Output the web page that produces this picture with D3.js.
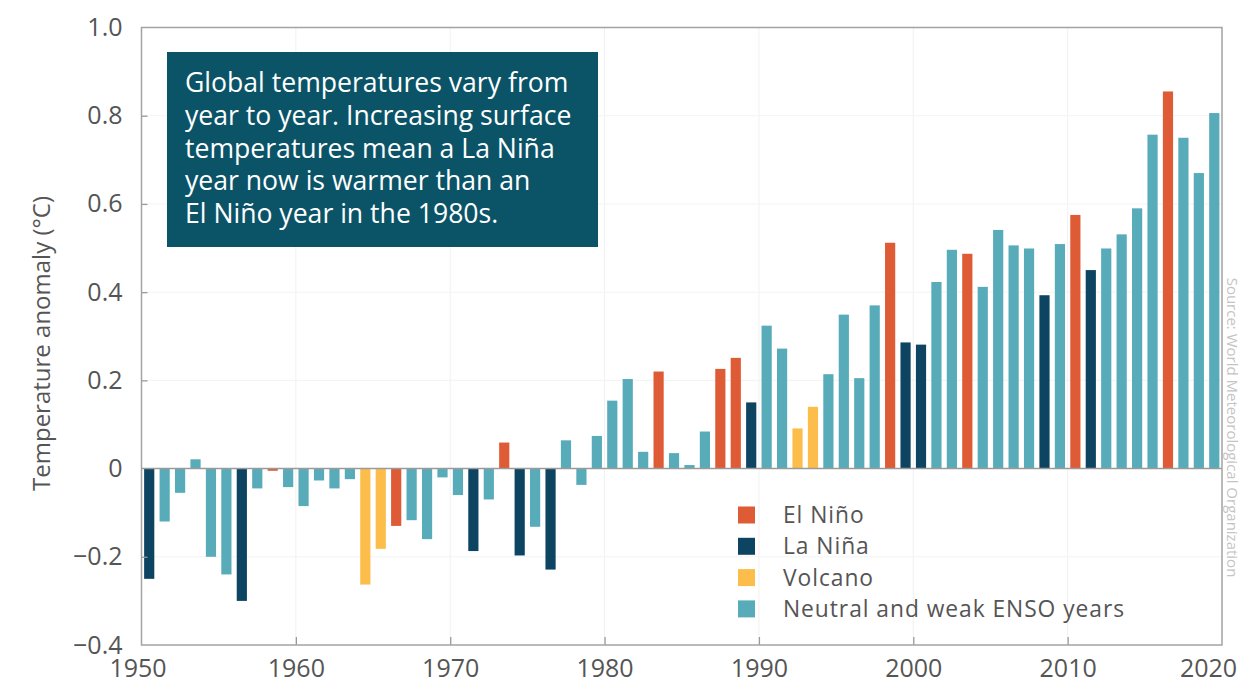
<!DOCTYPE html>
<html>
<head>
<meta charset="utf-8">
<script src="https://cdn.jsdelivr.net/npm/d3@7"></script>
<style>
  html, body { margin: 0; padding: 0; background: #ffffff; }
  svg { display: block; }
  text { font-family: "Open Sans", "Noto Sans", sans-serif; }
</style>
</head>
<body>
<svg id="chart" width="1242" height="688"></svg>
<script>
// ---- data ----
const years = d3.range(1950, 2020);
const anomalies = [
  -0.25, -0.12, -0.055, 0.021, -0.20, -0.24, -0.30, -0.045, -0.005, -0.042,
  -0.085, -0.027, -0.045, -0.024, -0.263, -0.182, -0.130, -0.117, -0.160, -0.020,
  -0.060, -0.187, -0.070, 0.059, -0.197, -0.132, -0.229, 0.064, -0.037, 0.074,
  0.154, 0.203, 0.038, 0.220, 0.035, 0.008, 0.084, 0.226, 0.251, 0.150,
  0.324, 0.272, 0.091, 0.140, 0.214, 0.349, 0.205, 0.370, 0.512, 0.286,
  0.281, 0.423, 0.496, 0.487, 0.412, 0.541, 0.506, 0.499, 0.393, 0.509,
  0.575, 0.450, 0.499, 0.531, 0.590, 0.757, 0.855, 0.750, 0.670, 0.806
];
// E = El Niño, L = La Niña, V = Volcano, N = Neutral
const yearTypes = [
  "L","N","N","N","N","N","L","N","E","N",
  "N","N","N","N","V","V","E","N","N","N",
  "N","L","N","E","L","N","L","N","N","N",
  "N","N","N","E","N","N","N","E","E","L",
  "N","N","V","V","N","N","N","N","E","L",
  "L","N","N","E","N","N","N","N","L","N",
  "E","L","N","N","N","N","E","N","N","N"
];
const legendKeys = ["E", "L", "V", "N"];
const legendLabels = ["El Niño", "La Niña", "Volcano", "Neutral and weak ENSO years"];
const legendColors = ["#de5b36", "#0d4462", "#fcbd4b", "#58abb9"];
const yTicks = [-0.4, -0.2, 0, 0.2, 0.4, 0.6, 0.8, 1.0];
const xTicks = [1950, 1960, 1970, 1980, 1990, 2000, 2010, 2020];
const yTitle = "Temperature anomaly (°C)";
const boxLines = [
  "Global temperatures vary from",
  "year to year. Increasing surface",
  "temperatures mean a La Niña",
  "year now is warmer than an",
  "El Niño year in the 1980s."
];
const sourceText = "Source: World Meteorological Organization";

// ---- layout ----
const svg = d3.select("#chart");
const L = 141.5, R = 1222, T = 27.5, B = 645;
const x = d3.scaleLinear().domain([1950, 2020]).range([L, R]);
const y = d3.scaleLinear().domain([-0.4, 1.0]).range([B, T]);
const color = d3.scaleOrdinal().domain(legendKeys).range(legendColors);

// faint gridlines
svg.append("g").selectAll("line.vg").data(xTicks.slice(1, -1)).join("line")
  .attr("x1", d => x(d)).attr("x2", d => x(d)).attr("y1", T).attr("y2", B)
  .attr("stroke", "#f1f1f1").attr("stroke-width", 1);
svg.append("g").selectAll("line.hg").data(yTicks.slice(1, -1).filter(d => d !== 0)).join("line")
  .attr("x1", L).attr("x2", R).attr("y1", d => y(d)).attr("y2", d => y(d))
  .attr("stroke", "#f3f3f3").attr("stroke-width", 1);

// bars
const data = years.map((yr, i) => ({ year: yr, v: anomalies[i], t: yearTypes[i] }));
svg.append("g").selectAll("rect").data(data).join("rect")
  .attr("x", d => x(d.year + 0.17))
  .attr("width", d => x(d.year + 0.83) - x(d.year + 0.17))
  .attr("y", d => y(Math.max(0, d.v)))
  .attr("height", d => Math.abs(y(d.v) - y(0)))
  .attr("fill", d => color(d.t));

// zero line
svg.append("line")
  .attr("x1", L).attr("x2", R).attr("y1", y(0)).attr("y2", y(0))
  .attr("stroke", "#9a9a9a").attr("stroke-width", 1.5);

// axes
const yAxis = d3.axisLeft(y).tickValues(yTicks)
  .tickFormat(d => d === 0 ? "0" : d3.format(".1f")(d))
  .tickSizeInner(-6).tickSizeOuter(0).tickPadding(19);
const gy = svg.append("g").attr("transform", `translate(${L},0)`).call(yAxis);
gy.select(".domain").remove();
gy.selectAll(".tick line").attr("stroke", "#9a9a9a").attr("stroke-width", 1.3)
  .attr("opacity", d => (d === 0 || d === 1.0 || d === -0.4) ? 0 : 1);
gy.selectAll(".tick text").attr("fill", "#555").style("font-size", "25px");

const xAxis = d3.axisBottom(x).tickValues(xTicks).tickFormat(d3.format("d"))
  .tickSizeInner(-8).tickSizeOuter(0).tickPadding(14);
const gx = svg.append("g").attr("transform", `translate(0,${B})`).call(xAxis);
gx.select(".domain").remove();
gx.selectAll(".tick line").attr("stroke", "#9a9a9a").attr("stroke-width", 1.3)
  .attr("opacity", d => (d === 1950 || d === 2020) ? 0 : 1);
gx.selectAll(".tick text").attr("fill", "#555").style("font-size", "25px")
  .attr("dx", d => d === 2020 ? -14 : (d === 1950 ? -4 : 0));

// frame
svg.append("rect").attr("x", L).attr("y", T).attr("width", R - L).attr("height", B - T)
  .attr("fill", "none").attr("stroke", "#a3a3a3").attr("stroke-width", 1.5);

// y title
svg.append("text")
  .attr("transform", `translate(50,${(200 + 487) / 2}) rotate(-90)`)
  .attr("text-anchor", "middle").attr("fill", "#555").style("font-size", "24px")
  .text(yTitle);

// text box
svg.append("rect").attr("x", 167).attr("y", 52).attr("width", 431).attr("height", 195)
  .attr("fill", "#0b5468");
svg.append("g").selectAll("text").data(boxLines).join("text")
  .attr("x", 185).attr("y", (d, i) => 92 + i * 32.75)
  .attr("fill", "#ffffff").style("font-size", "26.6px")
  .text(d => d);

// legend
const lg = svg.append("g");
legendLabels.forEach((lab, i) => {
  const cy = 515 + i * 31.3;
  lg.append("rect").attr("x", 738).attr("y", cy - 8.5).attr("width", 17).attr("height", 17)
    .attr("fill", legendColors[i]);
  lg.append("text").attr("x", 783).attr("y", cy).attr("dy", "0.35em")
    .attr("fill", "#555").style("font-size", "22.8px").style("letter-spacing", "0.95px")
    .text(lab);
});

// source (faint, rotated)
svg.append("text")
  .attr("transform", `translate(1227,${(245 + 610) / 2}) rotate(90)`)
  .attr("text-anchor", "middle").attr("fill", "#c4c4c4").style("font-size", "15px")
  .text(sourceText);
</script>
</body>
</html>
